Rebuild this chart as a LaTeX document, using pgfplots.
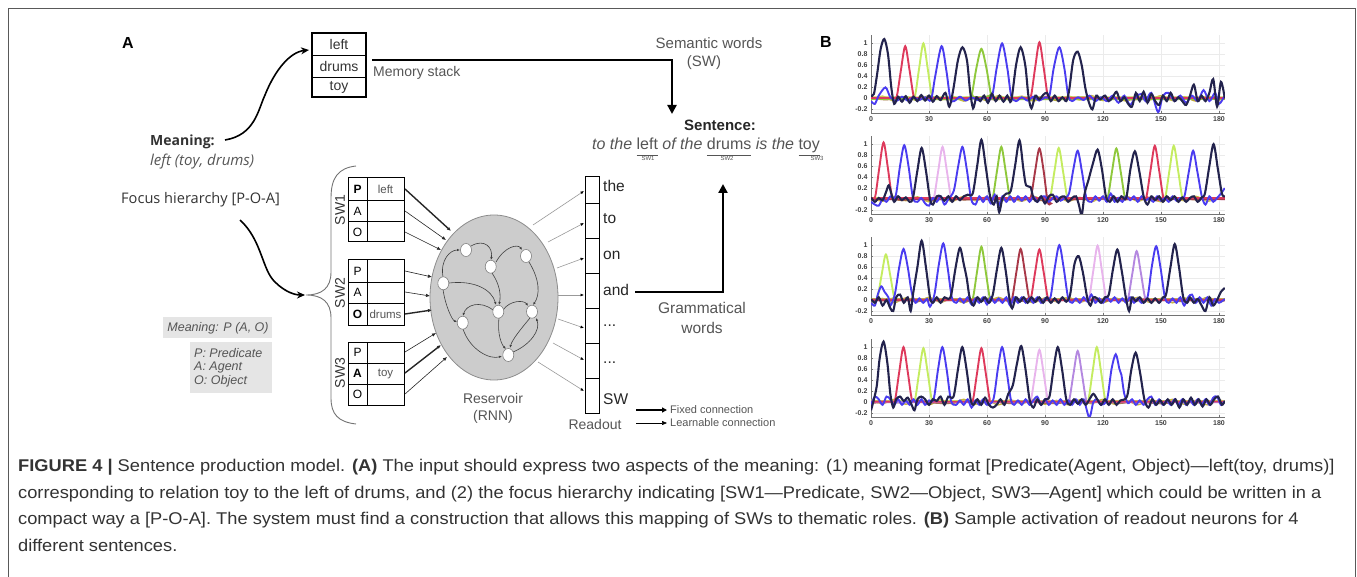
\documentclass[border=0pt]{standalone}
\usepackage{fontspec}
\setmainfont{Liberation Sans}
\newfontfamily\osans{Open Sans}
\newfontfamily\capfont[FakeStretch=1.075]{Liberation Sans}
\usepackage{pgfplots}
\pgfplotsset{compat=1.18}
\usetikzlibrary{arrows.meta}
\newcommand\fs[1]{\fontsize{#1}{#1}\selectfont}
\newcommand\ul[1]{\underline{\vphantom{y}#1}}
\definecolor{nv}{HTML}{23234D}
\definecolor{bl}{HTML}{4A3CF0}
\definecolor{rd}{HTML}{DE3A5C}
\definecolor{dkr}{HTML}{A83848}
\definecolor{lm}{HTML}{C4EC60}
\definecolor{gr}{HTML}{8FC83C}
\definecolor{pk}{HTML}{E8B4EC}
\definecolor{vi}{HTML}{B488E0}
\definecolor{br}{HTML}{9A6A30}
\definecolor{ol}{HTML}{C8B840}
\definecolor{txt}{HTML}{555555}
\definecolor{cap}{HTML}{333333}

\pgfplotsset{act/.style={scale only axis, width=353.8pt, height=78pt,
  xmin=0, xmax=183, ymin=-0.27, ymax=1.15,
  xtick={0,30,60,90,120,150,180}, ytick={-0.2,0,0.2,0.4,0.6,0.8,1},
  axis x line*=bottom, axis y line*=left,
  axis line style={draw=black!55, line width=0.6pt, -},
  tick style={draw=black!55, line width=0.5pt}, major tick length=2pt, tick align=inside,
  grid=major, grid style={draw=black!8, line width=0.4pt},
  ticklabel style={font=\fs{7}\bfseries, text=black!75},
  /pgf/number format/assume math mode=true,
  yticklabel style={/pgf/number format/fixed, /pgf/number format/precision=1},
  every axis plot/.append style={smooth, tension=0.5, no markers, line width=1.9pt}}}

\begin{document}
\begin{tikzpicture}
\useasboundingbox (0,0) rectangle (1357pt,-577pt);
\begin{scope}[x=1pt,y=-1pt]
% frame
\draw[black!65, line width=0.9pt] (8,577) -- (8,8) -- (1355,8) -- (1355,577);
\node[font=\fs{16}\bfseries] at (128,43) {A};
\node[font=\fs{16}\bfseries] at (826,42) {B};

% memory stack
\draw[line width=1.2pt] (312,33) rectangle (366,97);
\draw[line width=0.8pt] (312,55) -- (366,55) (312,77) -- (366,77);
\node[font=\fs{14}, text=black!80] at (339,44) {left};
\node[font=\fs{14}, text=black!80] at (339,66) {drums};
\node[font=\fs{14}, text=black!80] at (339,87) {toy};
\node[font=\fs{14}, text=txt, anchor=west, inner sep=0] at (373,73) {Memory stack};
\draw[line width=2.2pt, -{Triangle[length=9pt,width=9pt]}] (372,60) -- (672,60) -- (672,114);
\node[font=\fs{15}, text=txt] at (709,43) {Semantic words};
\node[font=\fs{15}, text=txt] at (704,63) {(SW)};
\node[font=\fs{15}\bfseries, text=black!85] at (720,125) {Sentence:};
\node[anchor=base west, inner sep=0, text=txt, font=\fs{16}] at (592,150)
  {{\itshape to the }\ul{left}{\itshape\ of the }\ul{drums}{\itshape\ is the }\ul{toy}};
\node[font=\fs{6}, text=txt] at (648,158) {SW1};
\node[font=\fs{6}, text=txt] at (727,158) {SW2};
\node[font=\fs{6}, text=txt] at (817,158) {SW3};

% meaning
\node[font=\osans\fs{14}\bfseries, text=black!80, anchor=west, inner sep=0] at (150,142) {Meaning:};
\node[font=\osans\fs{15}\itshape, text=txt, anchor=west, inner sep=0] at (150,162) {left (toy, drums)};
\draw[line width=1.6pt, -{Stealth[length=8pt,width=7pt]}] (225,140) .. controls (255,135) and (258,110) .. (265,95) .. controls (275,70) and (290,52) .. (309,50);
\node[font=\osans\fs{14.6}, text=black!80, anchor=west, inner sep=0] at (121,200) {Focus hierarchy [P-O-A]};
\draw[line width=1.6pt, -{Stealth[length=8pt,width=7pt]}] (240,220) .. controls (262,240) and (262,270) .. (275,282) .. controls (285,292) and (295,295) .. (305,295);

% brace
\draw[black!55, line width=0.9pt] (356,166) .. controls (338,168) and (331,178) .. (331,198) -- (331,272) .. controls (331,288) and (322,295) .. (306,295) .. controls (322,295) and (331,302) .. (331,318) -- (331,398) .. controls (331,414) and (338,422) .. (356,424);

% gray legend boxes
\fill[black!10] (163,317) rectangle (272,338);
\node[font=\fs{12.5}\itshape, text=txt] at (218,328) {Meaning: P (A, O)};
\fill[black!10] (190,342) rectangle (272,393);
\node[font=\fs{12.5}\itshape, text=txt, anchor=west, inner sep=0] at (194,353) {P: Predicate};
\node[font=\fs{12.5}\itshape, text=txt, anchor=west, inner sep=0] at (194,367.5) {A: Agent};
\node[font=\fs{12.5}\itshape, text=txt, anchor=west, inner sep=0] at (194,381.5) {O: Object};

% input boxes
\foreach \t/\b in {178/242, 260/325, 342/405}{
  \draw[line width=1pt] (348,\t) rectangle (404,\b);
  \draw[line width=0.6pt] (367,\t) -- (367,\b);
}
\draw[line width=0.6pt] (348,200) -- (404,200) (348,221) -- (404,221);
\draw[line width=0.6pt] (348,282) -- (404,282) (348,303) -- (404,303);
\draw[line width=0.6pt] (348,363) -- (404,363) (348,384) -- (404,384);
\node[font=\fs{12}\bfseries] at (357.5,189) {P};
\node[font=\fs{12}] at (357.5,211) {A};
\node[font=\fs{12}] at (357.5,232) {O};
\node[font=\fs{12}] at (357.5,271) {P};
\node[font=\fs{12}] at (357.5,292.5) {A};
\node[font=\fs{12}\bfseries] at (357.5,314) {O};
\node[font=\fs{12}] at (357.5,352.5) {P};
\node[font=\fs{12}\bfseries] at (357.5,373.5) {A};
\node[font=\fs{12}] at (357.5,394.5) {O};
\node[font=\fs{11.5}, text=txt] at (385.5,189) {left};
\node[font=\fs{11.5}, text=txt] at (385.5,314) {drums};
\node[font=\fs{11.5}, text=txt] at (385.5,373.5) {toy};
\node[font=\fs{14}, text=black!80, rotate=90] at (340,210) {SW1};
\node[font=\fs{14}, text=black!80, rotate=90] at (340,293) {SW2};
\node[font=\fs{14}, text=black!80, rotate=90] at (340,373) {SW3};

% reservoir
\draw[fill=black!20, draw=black!45, line width=0.8pt] (494,297.5) ellipse [x radius=64pt, y radius=82.5pt];
\begin{scope}[black!75, line width=0.6pt, -{Latex[length=3pt,width=2.5pt]}]
\draw (443,277) .. controls (440,260) and (450,250) .. (460,250);
\draw (471,246) .. controls (485,238) and (493,248) .. (491,260);
\draw (496,262) .. controls (505,246) and (518,244) .. (522,250);
\draw (529,262) .. controls (540,280) and (540,295) .. (533,305);
\draw (492,273) .. controls (500,285) and (501,295) .. (499,305);
\draw (449,283) .. controls (475,280) and (492,290) .. (496,305);
\draw (493,310) .. controls (480,300) and (466,305) .. (463,316);
\draw (443,289) .. controls (445,305) and (452,320) .. (457,322);
\draw (463,329) .. controls (470,350) and (490,360) .. (502,356);
\draw (503,310) .. controls (510,300) and (524,300) .. (528,306);
\draw (530,318) .. controls (520,330) and (512,340) .. (510,348);
\draw (499,318) .. controls (497,335) and (502,345) .. (506,349);
\draw (513,352) .. controls (530,345) and (541,330) .. (536,318);
\end{scope}
\foreach \p in {(466,250),(490.7,266.7),(526,256),(443.3,283.3),(498.3,311.7),(532,311.7),(462.7,322.7),(508.3,355)}
  \draw[fill=white, draw=black!50, line width=0.6pt] \p ellipse [x radius=5.5pt, y radius=6.5pt];
\node[font=\fs{14}, text=txt] at (493,398) {Reservoir};
\node[font=\fs{14}, text=txt] at (493,417) {(RNN)};

% input connections
\begin{scope}[black!85, -{Latex[length=4pt,width=3.5pt]}]
\draw[line width=1.4pt] (405,189) -- (451,231);
\draw[line width=0.6pt] (405,211) -- (446,240);
\draw[line width=0.6pt] (405,232) -- (441,250);
\draw[line width=0.6pt] (405,271) -- (432,277);
\draw[line width=0.6pt] (405,292) -- (430,296);
\draw[line width=1.4pt] (405,314) -- (432,310);
\draw[line width=0.6pt] (405,352) -- (436,333);
\draw[line width=1.4pt] (405,373) -- (441,345);
\draw[line width=0.6pt] (405,394) -- (447,357);
\end{scope}

% readout
\draw[line width=1pt] (585,177) rectangle (599,413);
\foreach \y in {203,238,273,308,343,378} \draw[line width=0.7pt] (585,\y) -- (599,\y);
\foreach \y/\w in {186/the, 219/to, 255/on, 290/and, 326/{...}, 363/{...}, 399/SW}
  \node[font=\fs{15.5}, text=black!85, anchor=west, inner sep=0] at (603,\y) {\w};
\begin{scope}[black!40, line width=0.6pt, -{Latex[length=3.5pt,width=3pt,black]}]
\draw (533,225) -- (584,191);
\draw (548,242) -- (584,223);
\draw (557,268) -- (584,258);
\draw (558,295) -- (584,295);
\draw (558,319) -- (584,328);
\draw (553,343) -- (584,360);
\draw (538,362) -- (584,391);
\end{scope}
\node[font=\fs{14}, text=txt] at (595,424) {Readout};
\draw[line width=2.2pt, -{Triangle[length=9pt,width=9pt]}] (635,292) -- (723,292) -- (723,184);
\node[font=\fs{15.5}, text=txt] at (702,308) {Grammatical};
\node[font=\fs{15.5}, text=txt] at (702,328) {words};
\draw[line width=1.6pt, -{Triangle[length=5pt,width=5pt]}] (636,410) -- (667,410);
\draw[line width=0.6pt, -{Triangle[length=5pt,width=4pt]}] (636,423) -- (667,423);
\node[font=\fs{11}, text=txt, anchor=west, inner sep=0] at (670,410) {Fixed connection};
\node[font=\fs{11}, text=txt, anchor=west, inner sep=0] at (670,423) {Learnable connection};

% caption
\begin{scope}[every node/.style={anchor=base west, inner sep=0, text=cap, font=\capfont\fs{17}}]
\node at (18,471) {\textbf{FIGURE 4 |} Sentence production model. \textbf{(A)} The input should express two aspects of the meaning: (1) meaning format [Predicate(Agent, Object)—left(toy, drums)]};
\node at (18,498) {corresponding to relation toy to the left of drums, and (2) the focus hierarchy indicating [SW1—Predicate, SW2—Object, SW3—Agent] which could be written in a};
\node at (18,524) {compact way a [P-O-A]. The system must find a construction that allows this mapping of SWs to thematic roles. \textbf{(B)} Sample activation of readout neurons for 4};
\node at (18,551) {different sentences.};
\end{scope}
\end{scope}

% ---- panel B: readout activations ----
\begin{axis}[act, at={(871pt,-113.2pt)}, anchor=south west]
\addplot[ol, line width=1.4pt] coordinates {(0,-0.03)(6,0.04)(12,-0.05)(18,0.03)(24,-0.04)(30,0.05)(36,-0.03)(42,0.04)(48,-0.05)(54,0.03)(60,-0.04)(66,0.05)(72,-0.03)(78,0.04)(84,-0.05)(90,0.03)(96,-0.04)(102,0.04)(108,-0.03)(114,0.05)(120,-0.04)(126,0.03)(132,-0.05)(138,0.04)(144,-0.03)(150,0.05)(156,-0.04)(162,0.03)(168,-0.05)(174,0.04)(180,-0.03)(183,0)};
\addplot[br] coordinates {(0,0.01)(8,-0.02)(16,0.02)(24,-0.01)(32,0.02)(40,-0.02)(48,0.01)(56,0.02)(64,-0.02)(72,0.01)(80,-0.01)(88,0.02)(96,-0.02)(104,0.01)(112,0.02)(120,-0.01)(128,0.01)(136,-0.02)(144,0.02)(152,-0.01)(160,0.01)(168,-0.02)(176,0.01)(183,0)};
\addplot[lm] coordinates {(0,0.02)(21.1,0.02)(22.8,0.05)(24.9,0.55)(27.1,1.0)(29.3,0.55)(31.4,0.05)(33.1,0.02)(183,0.02)};
\addplot[gr] coordinates {(0,-0.01)(50.5,-0.01)(52.2,0.08)(54.5,0.55)(57.1,0.9)(59.7,0.55)(62,0.08)(63.7,-0.01)(183,-0.01)};
\addplot[rd] coordinates {(0,0.01)(11.7,0.01)(13.4,0.05)(15.5,0.52)(17.7,0.95)(19.9,0.52)(22,0.05)(23.7,0.01)(81.1,0.01)(82.8,0.05)(84.9,0.56)(87.1,1.02)(89.3,0.56)(91.4,0.05)(93.1,0.01)(183,0.01)};
\addplot[bl] coordinates {(0,-0.05)(2,-0.1)(4,0.05)(7.5,0.2)(10,0.02)(13,-0.05)(16,0.03)(19,-0.04)(22,0.02)(25,-0.03)(28,0.02)(31,-0.03)(33.2,0.4)(36.5,0.95)(39,0.5)(41,0.0)(43,-0.05)(46,0.03)(49,-0.04)(52,0.02)(55,-0.03)(58,0.02)(61,-0.04)(63,0.1)(65,0.55)(67.8,1.0)(70.5,0.55)(72.5,0.05)(75,-0.05)(78,0.02)(81,-0.04)(84,0.03)(87,-0.04)(90,0.02)(92.3,0.05)(94.5,0.55)(97.4,0.93)(100,0.55)(102,0.05)(104,-0.05)(107,0.02)(110,-0.03)(113,0.05)(116,-0.05)(119,0.02)(122,-0.05)(125,0.05)(128,-0.08)(131,0.05)(134,-0.12)(137,0.03)(140,0.08)(142,-0.05)(145,0.1)(148.5,-0.25)(151,0.05)(154,0.1)(157,-0.05)(160,0.05)(163,-0.08)(166,0.05)(169,-0.05)(172,0.15)(175,-0.05)(178,0.1)(180,-0.1)(183,0.05)};
\addplot[nv, line width=2.1pt] coordinates {(0,0.05)(1.5,0.08)(3.2,0.45)(5,0.9)(6.9,1.08)(8.8,0.8)(10.5,0.2)(12,-0.1)(14,0.03)(16,-0.06)(18,0.04)(20,-0.08)(22,0.03)(24,-0.05)(26,0.06)(28,-0.04)(30,0.05)(32,-0.06)(34,0.04)(36,-0.03)(38.5,0.1)(40.5,-0.15)(42.5,0.15)(45,0.7)(47.3,0.93)(49.6,0.7)(51.2,0.15)(52.8,-0.18)(54.5,0.02)(56.5,-0.05)(58.5,0.05)(60.5,-0.08)(62.5,0.08)(64.5,-0.05)(66.5,0.05)(68.5,-0.06)(70.5,0.05)(72.5,-0.05)(75,0.6)(77.4,0.93)(79.8,0.6)(81.4,0.05)(83,-0.18)(85,0.05)(87,-0.02)(89,0.06)(91,0.1)(93,-0.05)(95,0.05)(97,-0.05)(99,0.02)(101,-0.05)(102.5,0.15)(104.6,0.7)(106.9,0.85)(109,0.6)(110.8,0.2)(112.5,-0.05)(114.5,-0.2)(116.5,0.05)(118.5,-0.02)(121,0.05)(123,-0.05)(125,0.02)(127,0.12)(129,-0.05)(131,0.02)(133,-0.1)(135,-0.15)(137,0.1)(139,-0.05)(141,0.12)(143,-0.08)(145,0.08)(147,-0.05)(149,-0.12)(151,0.05)(153,-0.05)(155,0.1)(157,-0.05)(159,0.02)(161,-0.05)(163,-0.12)(165,0.05)(167,0.25)(169,-0.05)(171,0.05)(173,-0.05)(175,0.1)(177,0.35)(179,-0.15)(181,0.3)(183,0.0)};
\end{axis}

\begin{axis}[act, at={(871pt,-213.9pt)}, anchor=south west]
\addplot[ol, line width=1.4pt] coordinates {(0,0.03)(6,-0.04)(12,0.05)(18,-0.03)(24,0.04)(30,-0.05)(36,0.03)(42,-0.04)(48,0.05)(54,-0.03)(60,0.04)(66,-0.05)(72,0.03)(78,-0.04)(84,0.05)(90,-0.03)(96,0.04)(102,-0.04)(108,0.03)(114,-0.05)(120,0.04)(126,-0.03)(132,0.05)(138,-0.04)(144,0.03)(150,-0.05)(156,0.04)(162,-0.03)(168,0.05)(174,-0.04)(180,0.03)(183,0)};
\addplot[br] coordinates {(0,-0.01)(8,0.02)(16,-0.02)(24,0.01)(32,-0.02)(40,0.02)(48,-0.01)(56,0.01)(64,0.02)(72,-0.01)(80,0.02)(88,-0.02)(96,0.01)(104,-0.01)(112,0.02)(120,0.01)(128,-0.02)(136,0.01)(144,0.02)(152,-0.01)(160,0.02)(168,-0.01)(176,0.02)(183,0)};
\addplot[pk] coordinates {(0,0)(31,0)(32.7,0.05)(34.8,0.52)(37,0.95)(39.2,0.52)(41.3,0.05)(43,0)(183,0)};
\addplot[gr] coordinates {(0,0.01)(61.4,0.01)(63.1,0.05)(65.2,0.52)(67.4,0.95)(69.6,0.52)(71.7,0.05)(73.4,0.01)(120.9,0.01)(122.6,0.05)(124.7,0.51)(126.9,0.92)(129.1,0.51)(131.2,0.05)(132.9,0.01)(183,0.01)};
\addplot[lm] coordinates {(0,0.02)(91.1,0.02)(92.8,0.05)(94.9,0.51)(97.1,0.93)(99.3,0.51)(101.4,0.05)(103.1,0.02)(150.6,0.02)(152.3,0.05)(154.4,0.53)(156.6,0.97)(158.8,0.53)(160.9,0.05)(162.6,0.02)(183,0.02)};
\addplot[dkr] coordinates {(0,0.0)(81.1,0.0)(82.8,0.05)(84.9,0.51)(87.1,0.92)(89.3,0.51)(91.4,-0.05)(93.1,-0.08)(95,0)(183,0)};
\addplot[rd] coordinates {(0,0.02)(0.5,0.02)(2.2,0.05)(4.3,0.57)(6.5,1.03)(8.7,0.57)(10.8,0.05)(12.5,0.02)(140.8,0.02)(142.5,0.05)(144.6,0.53)(146.8,0.97)(149,0.53)(151.1,0.05)(152.8,0.02)(183,0.02)};
\addplot[bl] coordinates {(0,-0.05)(2,-0.1)(4,-0.12)(6,0.0)(8,-0.05)(10,0.05)(12.7,0.05)(15,0.6)(17.2,0.98)(19.4,0.6)(21.7,0.02)(24,-0.05)(26,0.02)(28,-0.08)(30,-0.12)(32,0.02)(34,-0.05)(36,0.05)(38,-0.1)(40,0.0)(42.8,0.15)(45.1,0.6)(47.3,0.95)(49.5,0.55)(51.8,0.0)(54,-0.1)(56,0.05)(58,-0.05)(60,0.05)(62,-0.08)(64,0.08)(66,-0.12)(68,0.05)(70,-0.05)(72,0.05)(74,-0.05)(76,0.05)(78,-0.03)(80,0.05)(82,-0.05)(84,0.05)(86,-0.05)(88,0.03)(90,0.05)(92,-0.05)(94,0.02)(96,0.05)(98,-0.03)(100,0.02)(102.4,0.1)(104.7,0.55)(106.9,0.88)(109.1,0.5)(111.4,0.02)(114,-0.05)(116,0.05)(118,-0.03)(120,0.05)(122,-0.05)(124,0.1)(126,-0.05)(128,0.02)(130,-0.05)(132,0.05)(134,-0.02)(136,0.05)(138,-0.05)(140,0.05)(142,-0.03)(144,0.02)(146,-0.05)(148,0.05)(150,-0.03)(152,0.02)(154,-0.05)(156,0.05)(158,-0.03)(160,0.02)(162.1,0.05)(164.4,0.5)(166.6,0.88)(168.8,0.5)(171.1,0.05)(173,-0.1)(175,0.05)(177,-0.05)(179,0.02)(181,0.1)(183,0.2)};
\addplot[nv, line width=2.1pt] coordinates {(0,0.03)(2,-0.05)(4,0.02)(6,-0.02)(8,0.15)(9.2,0.25)(10.5,0.1)(12,-0.05)(14,0.05)(16,-0.02)(18,0.03)(20,-0.05)(21.7,0.02)(24,0.52)(26.2,0.93)(28.4,0.52)(30.5,0.0)(32,-0.1)(34,0.05)(36,0.05)(38,-0.03)(40,0.05)(42,-0.05)(44,0.05)(46,-0.02)(48,0.05)(50,0.08)(52.6,0.1)(54.9,0.6)(57.1,1.08)(59.3,0.6)(61.6,0.05)(63.5,-0.1)(65,0.05)(66.3,-0.24)(68,0.02)(70,0.1)(72.3,0.15)(74.5,0.6)(76.8,1.07)(78.8,0.55)(80.2,0.25)(82.5,0.22)(84,0.02)(86,-0.05)(88,0.05)(90,-0.08)(92,0.05)(94,0.08)(96,-0.05)(98,0.03)(100,0.05)(102,-0.05)(104,0.02)(106,0.05)(107.5,-0.1)(109,-0.29)(110.5,0.1)(112.5,0.35)(114.8,0.65)(117.2,0.9)(119.4,0.55)(121.5,0.05)(123.5,-0.05)(125.5,0.05)(127.5,-0.05)(129.5,0.05)(132,0.02)(134.2,0.55)(136.5,0.87)(138.8,0.5)(141,0.05)(143,-0.1)(145,0.05)(147,-0.02)(149,0.05)(151,-0.05)(153,0.05)(155,-0.02)(157,0.05)(159,-0.05)(161,0.03)(163,-0.05)(165,0.02)(167,0.05)(169,-0.05)(171,0.03)(172.7,0.1)(175,0.6)(177.2,1.0)(179.4,0.55)(181.5,0.1)(183,0.05)};
\end{axis}

\begin{axis}[act, at={(871pt,-314.9pt)}, anchor=south west]
\addplot[ol, line width=1.4pt] coordinates {(0,-0.04)(6,0.03)(12,-0.05)(18,0.04)(24,-0.03)(30,0.05)(36,-0.04)(42,0.03)(48,-0.05)(54,0.04)(60,-0.03)(66,0.05)(72,-0.04)(78,0.03)(84,-0.05)(90,0.04)(96,-0.03)(102,0.05)(108,-0.04)(114,0.03)(120,-0.05)(126,0.04)(132,-0.03)(138,0.05)(144,-0.04)(150,0.03)(156,-0.05)(162,0.04)(168,-0.03)(174,0.05)(180,-0.04)(183,0)};
\addplot[br] coordinates {(0,0.02)(8,-0.01)(16,0.01)(24,-0.02)(32,0.01)(40,0.02)(48,-0.02)(56,0.01)(64,-0.01)(72,0.02)(80,-0.02)(88,0.01)(96,0.02)(104,-0.01)(112,0.01)(120,-0.02)(128,0.02)(136,-0.01)(144,0.01)(152,0.02)(160,-0.02)(168,0.01)(176,-0.01)(183,0)};
\addplot[lm] coordinates {(0,0.02)(1.7,0.02)(3.4,0.05)(5.5,0.46)(7.7,0.83)(9.9,0.46)(12,0.05)(13.7,0.02)(183,0.02)};
\addplot[gr] coordinates {(0,0.01)(51.1,0.01)(52.8,0.05)(54.9,0.53)(57.1,0.97)(59.3,0.53)(61.4,0.05)(63.1,0.01)(183,0.01)};
\addplot[pk] coordinates {(0,0)(111.2,0)(112.9,0.05)(115,0.54)(117.2,0.99)(119.4,0.54)(121.5,0.05)(123.2,0)(183,0)};
\addplot[vi] coordinates {(0,0)(131.4,0)(133.1,0.05)(135.2,0.49)(137.4,0.89)(139.6,0.49)(141.7,0.05)(143.4,0)(183,0)};
\addplot[dkr] coordinates {(0,0)(71.4,0)(73.1,0.05)(75.2,0.51)(77.4,0.93)(79.6,0.51)(81.7,0.05)(83.4,0)(183,0)};
\addplot[rd] coordinates {(0,0.01)(81.1,0.01)(82.8,0.05)(84.9,0.51)(87.1,0.92)(89.3,0.51)(91.4,0.05)(93.1,0.01)(183,0.01)};
\addplot[bl] coordinates {(0,-0.05)(2,-0.1)(3.5,0.1)(5.3,0.25)(7,0.15)(9,0.05)(10,-0.1)(12.3,0.1)(14.6,0.6)(16.8,0.93)(19,0.6)(21,0.15)(23,-0.05)(25,0.03)(27,-0.05)(29,0.02)(30.5,-0.12)(32.8,0.1)(35.1,0.65)(37.4,1.03)(39.6,0.6)(41.8,0.05)(44,-0.05)(46,0.03)(48,-0.05)(50,0.05)(52,-0.08)(54,0.03)(56,-0.05)(58,0.05)(60,-0.08)(62,0.05)(64,-0.05)(66,0.03)(68,-0.05)(70,0.05)(72,-0.1)(74,0.05)(76,-0.05)(78,0.05)(80,-0.05)(82,0.03)(84,-0.05)(86,0.05)(88,-0.05)(90,0.03)(92.8,0.05)(95.1,0.6)(97.4,1.0)(99.6,0.6)(101.9,0.05)(104,-0.05)(106,0.03)(108,-0.05)(110,0.05)(112,-0.03)(114,0.1)(116,-0.05)(118,0.03)(120,-0.05)(122,0.05)(124,-0.03)(126,0.05)(128,-0.05)(130,0.03)(132,-0.05)(134,0.05)(136,-0.05)(138,0.03)(140,-0.05)(143,0.05)(145.2,0.6)(147.5,0.98)(149.7,0.6)(152,0.05)(154,-0.05)(156,0.03)(158,-0.05)(160,0.05)(162,-0.1)(164,0.05)(166,0.1)(168,-0.05)(170,0.05)(172,-0.05)(174,0.05)(176,-0.1)(178,0.02)(180,-0.05)(183,0.02)};
\addplot[nv, line width=2.1pt] coordinates {(0,0.02)(2,-0.05)(4,0.05)(6,-0.1)(8,0.0)(10,-0.15)(11.5,-0.2)(13,0.05)(15,0.1)(17,-0.05)(19,0.05)(20.5,-0.2)(21.7,0.1)(24,0.6)(26.2,1.08)(28.4,0.6)(30.5,0.05)(32,-0.05)(34,0.05)(36,-0.05)(38,0.05)(40,0.02)(41.5,0.1)(43.8,0.6)(46,0.95)(48,0.65)(49.5,0.4)(51,0.05)(53,-0.1)(55,0.05)(57,-0.03)(59,0.05)(61,-0.05)(63,0.1)(65.1,0.55)(67.4,0.95)(69.6,0.55)(71.5,0.05)(73,-0.15)(75,0.05)(77,-0.03)(79,0.05)(81,-0.05)(83,0.05)(85,-0.03)(87,0.05)(89,-0.05)(91,0.05)(93,-0.05)(95,0.03)(97,-0.05)(99,0.05)(101,-0.03)(103,0.1)(105.2,0.65)(107.4,0.8)(109.6,0.5)(111.8,0.05)(113.5,-0.1)(115,0.05)(117,0.03)(119,-0.05)(121,0.05)(123,0.1)(125.1,0.55)(127.4,0.92)(129.6,0.55)(131.8,0.05)(133.5,-0.2)(135,0.05)(137,-0.02)(139,0.05)(141,-0.05)(143,0.03)(145,-0.05)(147,0.03)(149,-0.05)(151,0.05)(152.6,0.1)(154.9,0.6)(157.1,1.02)(159.3,0.6)(161.5,0.05)(163.5,-0.05)(165,0.05)(167,-0.05)(169,0.02)(171,-0.1)(173,-0.2)(175,0.05)(177,-0.1)(179,0.0)(181,0.15)(183,0.22)};
\end{axis}

\begin{axis}[act, at={(871pt,-416.9pt)}, anchor=south west]
\addplot[ol, line width=1.4pt] coordinates {(0,0.04)(6,-0.03)(12,0.05)(18,-0.04)(24,0.03)(30,-0.05)(36,0.04)(42,-0.03)(48,0.05)(54,-0.04)(60,0.03)(66,-0.05)(72,0.04)(78,-0.03)(84,0.05)(90,-0.04)(96,0.03)(102,-0.05)(108,0.04)(114,-0.03)(120,0.05)(126,-0.04)(132,0.03)(138,-0.05)(144,0.04)(150,-0.03)(156,0.05)(162,-0.04)(168,0.03)(174,-0.05)(180,0.04)(183,0)};
\addplot[br] coordinates {(0,-0.02)(8,0.01)(16,-0.01)(24,0.02)(32,-0.01)(40,-0.02)(48,0.02)(56,-0.01)(64,0.01)(72,-0.02)(80,0.02)(88,-0.01)(96,-0.02)(104,0.01)(112,-0.01)(120,0.02)(128,-0.02)(136,0.01)(144,-0.01)(152,-0.02)(160,0.02)(168,-0.01)(176,0.01)(183,0)};
\addplot[lm] coordinates {(0,0.02)(21.1,0.02)(22.8,0.05)(24.9,0.54)(27.1,0.98)(29.3,0.54)(31.4,0.05)(33.1,0.02)(110.8,0.02)(112.5,0.05)(114.6,0.55)(116.8,1.0)(119,0.55)(121.1,0.05)(122.8,0.02)(183,0.02)};
\addplot[pk] coordinates {(0,0)(81.1,0)(82.8,0.05)(84.9,0.52)(87.1,0.95)(89.3,0.52)(91.4,0.05)(93.1,0)(183,0)};
\addplot[vi] coordinates {(0,0)(100.9,0)(102.6,0.05)(104.7,0.51)(106.9,0.93)(109.1,0.51)(111.2,0.05)(112.9,0)(183,0)};
\addplot[rd] coordinates {(0,0.01)(10.8,0.01)(12.5,0.05)(14.6,0.55)(16.8,1.0)(19,0.55)(21.1,0.05)(22.8,0.01)(51.1,0.01)(52.8,0.05)(54.9,0.54)(57.1,0.98)(59.3,0.54)(61.4,0.05)(63.1,0.01)(183,0.01)};
\addplot[bl] coordinates {(0,-0.05)(2,0.1)(4,0.05)(6,-0.05)(8,0.1)(10,0.05)(12,-0.05)(14,0.05)(16,-0.05)(18,0.03)(20,-0.05)(22,0.05)(24,-0.05)(26,0.05)(28,-0.05)(30,0.03)(32.4,0.05)(34.7,0.6)(36.9,1.0)(39.1,0.6)(41.4,0.02)(44,-0.05)(46,0.03)(48,-0.05)(50,0.05)(52,-0.1)(54,0.03)(56,-0.05)(58,0.05)(60,-0.05)(63.3,0.05)(65.6,0.6)(67.8,1.0)(70,0.6)(72.3,0.05)(74,-0.05)(76,0.03)(78,-0.05)(80,0.05)(82,-0.05)(84,0.03)(86,0.1)(88,-0.05)(90,0.05)(92,-0.05)(94,0.03)(96,-0.05)(98,0.05)(100,-0.05)(102,0.03)(104,-0.05)(106,0.05)(108,-0.05)(110,0.05)(112.9,-0.28)(115,0.0)(117,0.05)(119,-0.05)(122.1,0.05)(124.4,0.6)(126.6,0.87)(128.5,0.6)(129.5,0.5)(131,0.15)(133,-0.02)(135,0.05)(137,-0.05)(139,0.03)(141,-0.05)(143,0.05)(145,0.1)(147,-0.05)(149,0.05)(151,-0.05)(153,0.03)(155,-0.05)(157,0.05)(159,-0.05)(161,0.05)(163,-0.05)(165,0.03)(167,-0.05)(169,0.05)(171,-0.05)(173,0.05)(175,-0.05)(177,0.08)(179,0.1)(181,-0.05)(183,0.02)};
\addplot[nv, line width=2.1pt] coordinates {(0,-0.15)(1.5,0.05)(3,0.3)(4.5,0.8)(6.5,1.1)(8.5,0.7)(10,0.15)(11.5,-0.1)(13,0.05)(15,0.1)(17,0.02)(19,0.08)(21,-0.05)(22.5,-0.15)(24,0.05)(26,0.1)(28,0.05)(30,-0.05)(32,0.05)(34,0.02)(36,0.1)(38,-0.05)(40,0.1)(42.7,0.1)(45,0.6)(47.2,1.0)(49.4,0.6)(51.5,0.05)(53,-0.05)(55,0.05)(57,-0.05)(59,0.08)(61,-0.05)(63,-0.1)(65,-0.05)(67,0.05)(69,-0.05)(71,0.15)(73.3,0.3)(75.5,0.7)(77.7,1.02)(79.9,0.6)(82,0.05)(84,-0.1)(86,0.05)(88,-0.05)(90,0.05)(92.3,0.1)(94.4,0.6)(96.6,1.0)(98.8,0.6)(101,0.05)(103,-0.05)(105,0.05)(107,-0.03)(109,0.05)(111,-0.05)(113,0.05)(115,0.15)(117,0.05)(119,-0.05)(121,0.05)(123,-0.05)(125,0.05)(127,-0.05)(129,0.03)(132.4,0.1)(134.7,0.6)(136.9,0.9)(139.1,0.55)(141.4,0.05)(143.5,-0.1)(145.5,0.05)(147.5,-0.05)(149.5,0.03)(151.5,-0.05)(153.5,0.05)(155.5,-0.05)(157.5,0.05)(159.5,-0.1)(161.5,0.05)(163.5,-0.05)(165.5,0.08)(167.5,-0.05)(169.5,0.05)(171.5,-0.08)(173.5,0.05)(175.5,-0.05)(177.5,0.05)(179.5,0.1)(181.5,-0.05)(183,0.02)};
\end{axis}
\end{tikzpicture}
\end{document}
